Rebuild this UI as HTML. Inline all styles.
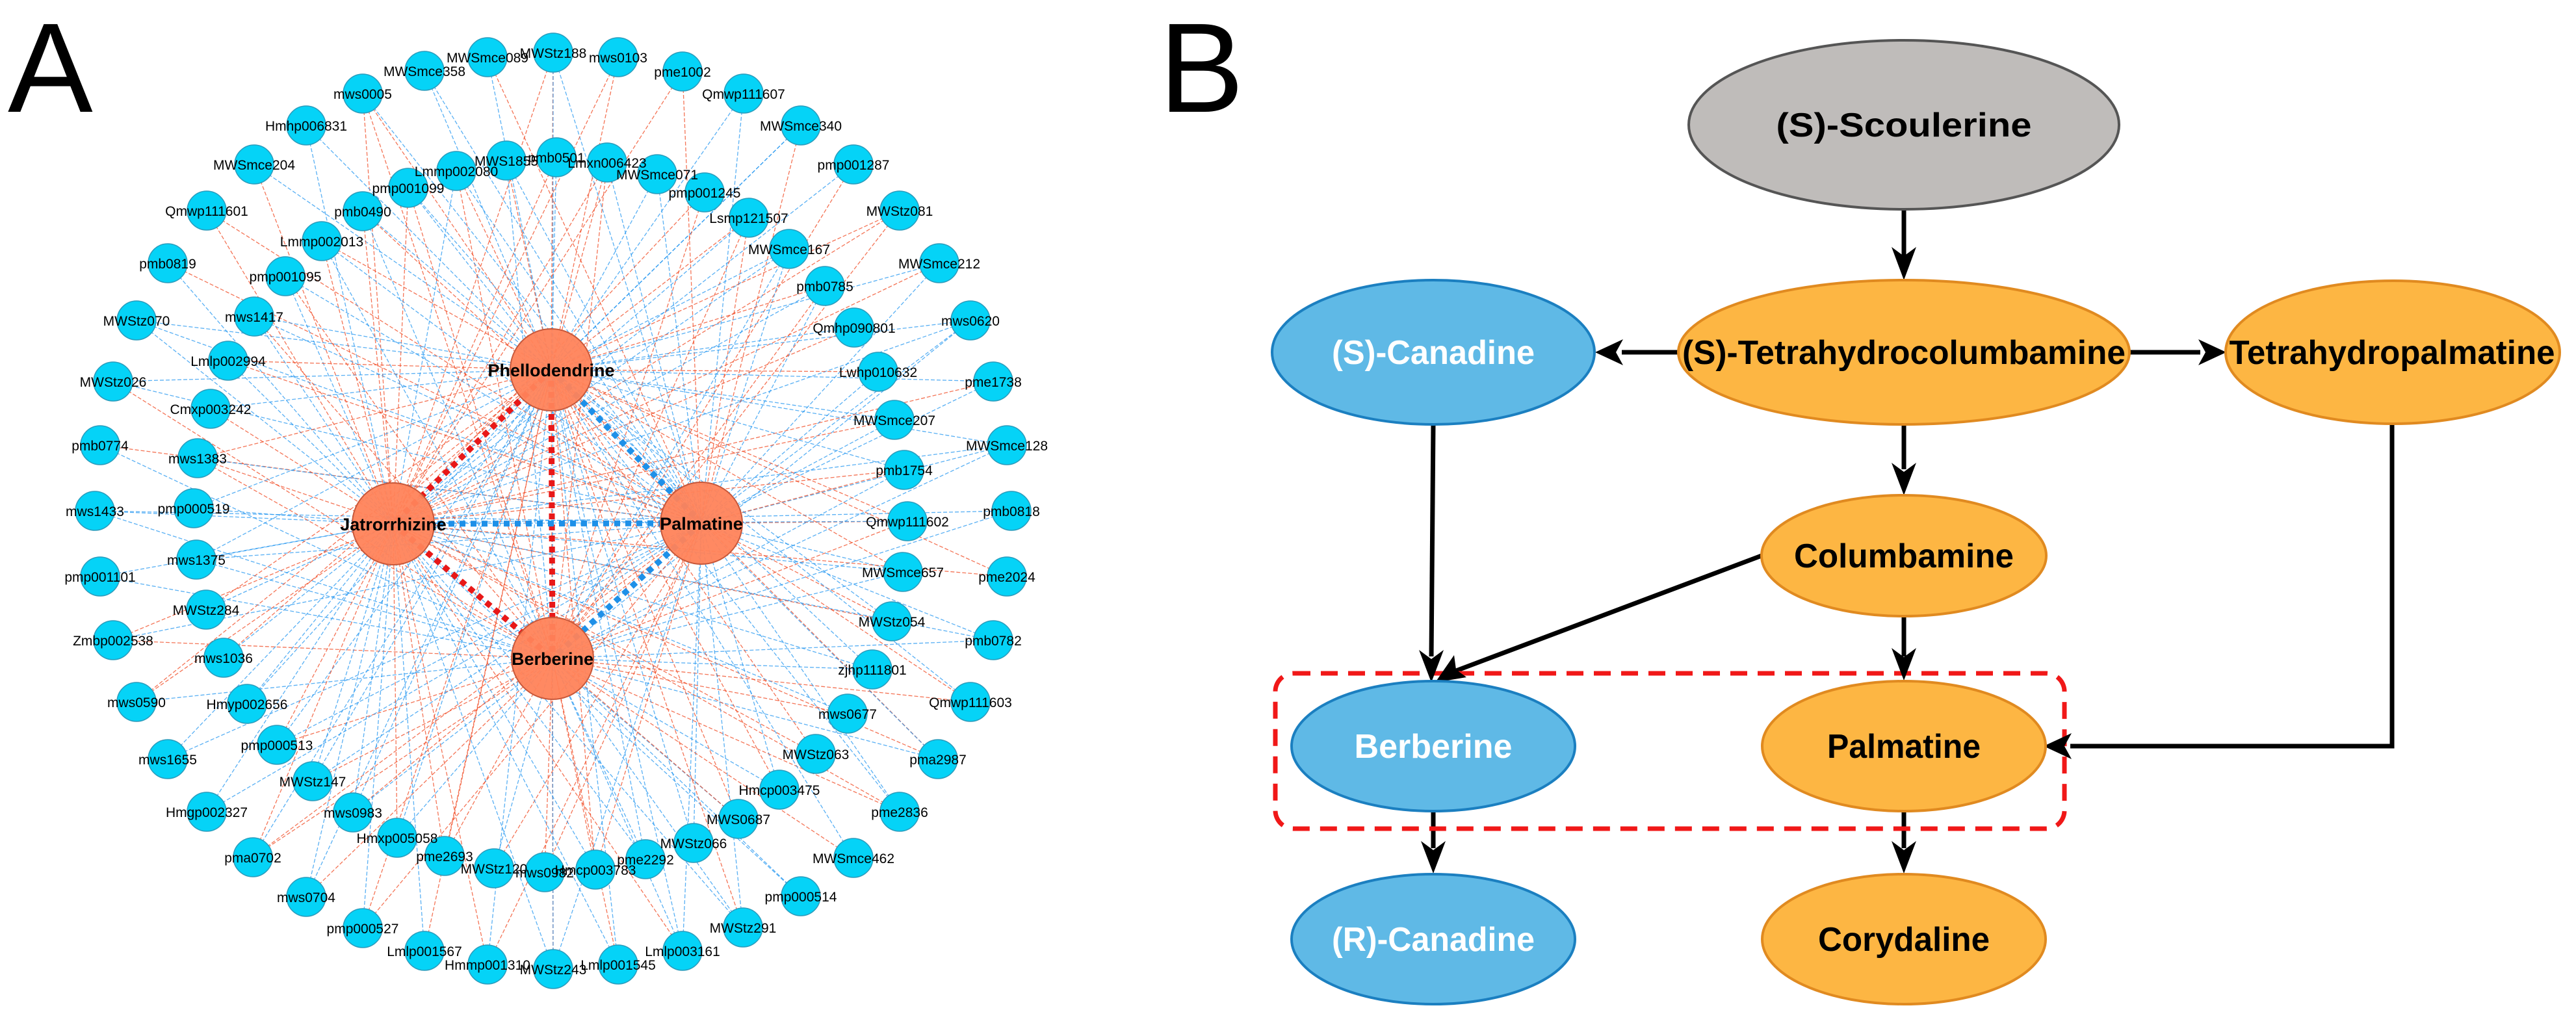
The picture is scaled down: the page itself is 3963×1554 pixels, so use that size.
<!DOCTYPE html>
<html><head><meta charset="utf-8">
<style>html,body{margin:0;padding:0;background:#fff;}svg{display:block;}</style>
</head><body>
<svg id="s" xmlns="http://www.w3.org/2000/svg" width="3963" height="1554" viewBox="0 0 3963 1554">
<rect width="3963" height="1554" fill="#fff"/>
<text x="12" y="172" font-family="Liberation Sans, sans-serif" font-size="196" fill="#000">A</text>
<text x="1783" y="172" font-family="Liberation Sans, sans-serif" font-size="196" fill="#000">B</text>
<g id="edges"></g>
<g id="big"></g>
<g id="nodes"></g>
<g id="labels" font-family="Liberation Sans, sans-serif" font-size="21" fill="#000" text-anchor="middle"></g>

<!-- Panel B -->
<g stroke="#000" stroke-width="7" fill="none">
<line x1="2929" y1="322" x2="2929" y2="395"/>
<line x1="2581" y1="542" x2="2495" y2="542"/>
<line x1="3276" y1="542" x2="3385" y2="542"/>
<line x1="2929" y1="653" x2="2929" y2="722"/>
<line x1="2205" y1="652" x2="2202" y2="1010"/>
<line x1="2710" y1="855" x2="2240" y2="1032"/>
<line x1="2929" y1="947" x2="2929" y2="1010"/>
<polyline points="3680,651 3680,1148 3185,1148"/>
<line x1="2205" y1="1249" x2="2205" y2="1305"/>
<line x1="2929" y1="1249" x2="2929" y2="1305"/>
</g>
<rect x="1962" y="1036" width="1214" height="239" rx="28" fill="none" stroke="#f01818" stroke-width="7" stroke-dasharray="26 16"/>
<g fill="#000">
<path d="M2929,431 L2910,380 L2929,394 L2948,380 Z"/>
<path d="M2454,542 L2497,522 L2486,542 L2497,562 Z"/>
<path d="M3425,542 L3382,522 L3393,542 L3382,562 Z"/>
<path d="M2929,762 L2910,712 L2929,726 L2948,712 Z"/>
<path d="M2202,1050 L2183,1000 L2202,1014 L2221,1000 Z"/>
<path d="M2208,1050 L2237,1008 L2240,1030 L2256,1042 Z"/>
<path d="M2929,1047 L2910,997 L2929,1011 L2948,997 Z"/>
<path d="M3144,1148 L3187,1128 L3176,1148 L3187,1168 Z"/>
<path d="M2205,1344 L2186,1294 L2205,1308 L2224,1294 Z"/>
<path d="M2929,1344 L2910,1294 L2929,1308 L2948,1294 Z"/>
</g>
<g stroke-width="4">
<ellipse cx="2929" cy="192" rx="331" ry="130" fill="#bfbcba" stroke="#555"/>
<ellipse cx="2205" cy="542" rx="248" ry="111" fill="#5fb9e6" stroke="#1b7fc0"/>
<ellipse cx="2929" cy="542" rx="347" ry="111" fill="#fdb643" stroke="#e08a20"/>
<ellipse cx="3681" cy="542" rx="257" ry="110" fill="#fdb643" stroke="#e08a20"/>
<ellipse cx="2929" cy="855" rx="219" ry="93" fill="#fdb643" stroke="#e08a20"/>
<ellipse cx="2205" cy="1148" rx="218" ry="100" fill="#5fb9e6" stroke="#1b7fc0"/>
<ellipse cx="2929" cy="1148" rx="218" ry="100" fill="#fdb643" stroke="#e08a20"/>
<ellipse cx="2205" cy="1445" rx="218" ry="100" fill="#5fb9e6" stroke="#1b7fc0"/>
<ellipse cx="2929" cy="1445" rx="218" ry="100" fill="#fdb643" stroke="#e08a20"/>
</g>
<g font-family="Liberation Sans, sans-serif" font-weight="bold" font-size="52" text-anchor="middle">
<text x="2929" y="210" textLength="393" lengthAdjust="spacingAndGlyphs" fill="#000">(S)-Scoulerine</text>
<text x="2205" y="560" textLength="312" lengthAdjust="spacingAndGlyphs" fill="#fff">(S)-Canadine</text>
<text x="2929" y="560" textLength="682" lengthAdjust="spacingAndGlyphs" fill="#000">(S)-Tetrahydrocolumbamine</text>
<text x="3680" y="560" textLength="501" lengthAdjust="spacingAndGlyphs" fill="#000">Tetrahydropalmatine</text>
<text x="2929" y="873" textLength="338" lengthAdjust="spacingAndGlyphs" fill="#000">Columbamine</text>
<text x="2205" y="1166" textLength="243" lengthAdjust="spacingAndGlyphs" fill="#fff">Berberine</text>
<text x="2929" y="1166" textLength="236" lengthAdjust="spacingAndGlyphs" fill="#000">Palmatine</text>
<text x="2205" y="1463" textLength="312" lengthAdjust="spacingAndGlyphs" fill="#fff">(R)-Canadine</text>
<text x="2929" y="1463" textLength="264" lengthAdjust="spacingAndGlyphs" fill="#000">Corydaline</text>
</g>
</svg>
<script>
(function(){
var NS="http://www.w3.org/2000/svg";
function el(t,a,p){var e=document.createElementNS(NS,t);for(var k in a)e.setAttribute(k,a[k]);p.appendChild(e);return e;}
var big=[["Phellodendrine",848,569],["Jatrorrhizine",605,806],["Palmatine",1079,805],["Berberine",850,1013]];
var N=[
["MWSmce089",750,88],["MWStz188",851,81],["MWSmce358",653,109],["mws0005",558,144],["Hmhp006831",471,193],["MWSmce204",391,253],["Qmwp111601",318,324],["pmb0819",258,405],["MWStz070",210,493],["MWStz026",174,587],["pmb0774",154,685],["mws1433",146,786],
["Lmmp002080",702,263],["MWS1855",779,247],["pmb0501",856,242],["pmp001099",628,289],["pmb0490",558,325],["Lmmp002013",495,371],["pmp001095",439,425],["mws1417",391,487],["Lmlp002994",351,555],["Cmxp003242",324,629],["mws1383",304,705],["pmp000519",298,782],
["mws0103",951,88],["pme1002",1050,110],["Qmwp111607",1144,144],["MWSmce340",1232,193],["pmp001287",1313,253],["MWStz081",1384,324],["MWSmce212",1445,405],["mws0620",1493,493],["pme1738",1528,587],["MWSmce128",1549,685],["pmb0818",1556,786],
["Lmxn006423",934,250],["MWSmce071",1011,268],["pmp001245",1084,296],["Lsmp121507",1152,335],["MWSmce167",1214,383],["pmb0785",1269,440],["Qmhp090801",1314,504],["Lwhp010632",1351,572],["MWSmce207",1376,646],["pmb1754",1391,723],["Qmwp111602",1396,802],
["pmp001101",154,887],["mws1375",302,861],["MWStz284",317,938],["Zmbp002538",174,985],["mws1036",344,1012],["mws0590",210,1080],["Hmyp002656",380,1083],["mws1655",258,1168],["pmp000513",426,1146],["MWStz147",481,1202],["Hmgp002327",318,1249],["mws0983",543,1250],["Hmxp005058",611,1289],["pma0702",389,1319],["pme2693",684,1317],["MWStz120",760,1336],["mws0982",838,1342],["mws0704",471,1380],["pmp000527",558,1428],["Lmlp001567",653,1463],["Hmmp001310",750,1484],["MWStz243",851,1491],
["MWSmce657",1389,880],["pme2024",1549,887],["MWStz054",1372,956],["pmb0782",1528,985],["zjhp111801",1342,1030],["Qmwp111603",1493,1080],["mws0677",1304,1098],["pma2987",1443,1168],["MWStz063",1255,1160],["Hmcp003475",1199,1215],["pme2836",1384,1249],["MWS0687",1136,1260],["MWStz066",1067,1297],["MWSmce462",1313,1320],["pme2292",993,1322],["Hmcp003783",916,1338],["pmp000514",1232,1379],["MWStz291",1143,1427],["Lmlp003161",1050,1463],["Lmlp001545",951,1484]
];
var E=document.getElementById("edges"),B=document.getElementById("big"),Nd=document.getElementById("nodes"),L=document.getElementById("labels");
var seed=7;function r(){seed=(seed*16807)%2147483647;return seed/2147483647;}
N.forEach(function(n){
  var cnt=2+Math.floor(r()*3);
  var idx=[0,1,2,3].sort(function(){return r()-0.5;});
  for(var i=0;i<cnt;i++){var b=big[idx[i]];var red=r()<0.45;
    el("line",{x1:n[1],y1:n[2],x2:b[1],y2:b[2],stroke:red?"#f0451e":"#2196f0","stroke-width":"1.3","stroke-dasharray":"6 3","stroke-opacity":"0.75"},E);}
});
function bl(a,b,c){el("line",{x1:big[a][1],y1:big[a][2],x2:big[b][1],y2:big[b][2],stroke:c,"stroke-width":"9","stroke-dasharray":"9 8"},E);}
bl(0,1,"#e81818");bl(0,3,"#e81818");bl(1,3,"#e81818");
bl(0,2,"#1e90e8");bl(1,2,"#1e90e8");bl(2,3,"#1e90e8");
N.forEach(function(n){el("circle",{cx:n[1],cy:n[2],r:30,fill:"#05d3f7",stroke:"#2a9cbc","stroke-width":"1.5"},Nd);
  var t=el("text",{x:n[1],y:n[2]+8},L);t.textContent=n[0];});
big.forEach(function(b){el("circle",{cx:b[1],cy:b[2],r:63,fill:"#ff835a","stroke":"#c8583a","stroke-width":"2","fill-opacity":"0.95"},B);});
big.forEach(function(b){var t=el("text",{x:b[1],y:b[2]+10,"font-size":"27","font-weight":"bold"},L);t.textContent=b[0];});
})();
</script>
</body></html>
